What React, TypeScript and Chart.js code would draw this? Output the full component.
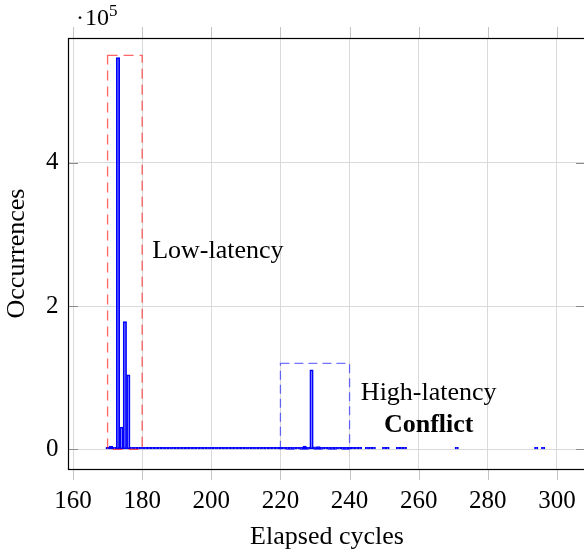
import React, { useEffect, useRef } from 'react';
import { Chart, registerables } from 'chart.js';

Chart.register(...registerables);

// ---- data ----
const cycles = [
  170, 171, 172, 173, 174, 175, 176, 177, 178, 179, 180, 181,
  182, 183, 184, 185, 186, 187, 188, 189, 190, 191, 192, 193, 194, 195, 196, 197, 198, 199,
  200, 201, 202, 203, 204, 205, 206, 207, 208, 209, 210, 211, 212, 213, 214, 215, 216, 217, 218, 219,
  220, 221, 222, 223, 224, 225, 226, 227, 228, 229, 230, 231, 232, 233, 234, 235, 236, 237, 238, 239,
  240, 241, 242, 243, 245, 246, 247, 250, 251, 254, 255, 256, 271, 294, 296,
];
const counts = [
  600, 4500, 900, 547000, 31000, 178500, 104000, 2200, 700, 500, 400, 3000,
  900, 500, 400, 350, 300, 300, 250, 250, 200, 200, 200, 180, 180, 160, 160, 150, 150, 140,
  140, 130, 130, 120, 120, 120, 110, 110, 110, 100, 100, 100, 110, 120, 150, 180, 200, 250, 300, 400,
  500, 600, 700, 800, 900, 1000, 1500, 4500, 800, 111000, 3500, 4000, 1500, 700, 500, 400, 300, 250, 200, 150,
  120, 100, 100, 90, 80, 80, 70, 60, 60, 50, 50, 40, 30, 20, 20,
];

const xTicks = [160, 180, 200, 220, 240, 260, 280, 300];
const yTicks = [0, 200000, 400000];
const xMin = 158.55;
const xMax = 308.4;
const yMin = -27350;
const yMax = 574350;

// annotation boxes
const boxX0 = [170, 220];
const boxX1 = [180, 240];
const boxY0 = [0, 0];
const boxY1 = [550000, 120000];
const boxColors = ['rgba(255,0,0,0.6)', 'rgba(0,0,255,0.55)'];
const boxDashes = [[10, 6], [9, 5]];

// annotation texts
const noteTexts = ['Low-latency', 'High-latency', 'Conflict'];
const noteX = [182.9, 262.9, 262.9];
const noteY = [267000, 69000, 24400];
const noteAlign = ['left', 'center', 'center'];
const noteBold = [false, false, true];

const SERIF = '"Liberation Serif", "Times New Roman", serif';

const decorPlugin = {
  id: 'decor',
  afterDatasetsDraw(chart: any) {
    const { ctx, chartArea: a, scales } = chart;
    const x = scales.x;
    const y = scales.y;
    ctx.save();

    // boxes
    ctx.lineWidth = 1.3;
    for (let i = 0; i < boxX0.length; i++) {
      const px0 = x.getPixelForValue(boxX0[i]);
      const px1 = x.getPixelForValue(boxX1[i]);
      const py0 = y.getPixelForValue(boxY0[i]);
      const py1 = y.getPixelForValue(boxY1[i]);
      ctx.strokeStyle = boxColors[i];
      ctx.setLineDash(boxDashes[i]);
      ctx.strokeRect(px0, py1, px1 - px0, py0 - py1);
    }
    ctx.setLineDash([]);

    // texts
    ctx.fillStyle = '#000';
    ctx.textBaseline = 'alphabetic';
    for (let i = 0; i < noteTexts.length; i++) {
      ctx.font = (noteBold[i] ? 'bold ' : '') + '26px ' + SERIF;
      ctx.textAlign = noteAlign[i];
      ctx.fillText(noteTexts[i], x.getPixelForValue(noteX[i]), y.getPixelForValue(noteY[i]));
    }

    // y ticks (inside, both sides)
    ctx.strokeStyle = '#8c8c8c';
    ctx.lineWidth = 1;
    for (const v of yTicks) {
      const py = Math.round(y.getPixelForValue(v)) + 0.5;
      ctx.beginPath();
      ctx.moveTo(a.left, py);
      ctx.lineTo(a.left + 10, py);
      ctx.moveTo(a.right - 10, py);
      ctx.lineTo(a.right, py);
      ctx.stroke();
    }
    // x ticks (outside, top and bottom)
    ctx.strokeStyle = '#c4c4c4';
    for (const v of xTicks) {
      const px = Math.round(x.getPixelForValue(v)) + 0.5;
      ctx.beginPath();
      ctx.moveTo(px, a.bottom);
      ctx.lineTo(px, a.bottom + 11);
      ctx.moveTo(px, a.top - 11);
      ctx.lineTo(px, a.top);
      ctx.stroke();
    }

    // frame
    ctx.strokeStyle = '#000';
    ctx.lineWidth = 1.2;
    ctx.strokeRect(Math.round(a.left) + 0.5, Math.round(a.top) + 0.5,
      Math.round(a.right - a.left), Math.round(a.bottom - a.top));

    // exponent label
    ctx.textAlign = 'left';
    ctx.font = '24px ' + SERIF;
    ctx.fillText('·', a.left + 8, a.top - 13);
    ctx.fillText('10', a.left + 17, a.top - 13);
    ctx.font = '17px ' + SERIF;
    ctx.fillText('5', a.left + 41, a.top - 22);

    ctx.restore();
  },
};

export default function App() {
  const ref = useRef<HTMLCanvasElement | null>(null);

  useEffect(() => {
    if (!ref.current) return;
    const data = cycles.map((c, i) => ({ x: c, y: counts[i] }));
    const chart = new Chart(ref.current, {
      type: 'bar',
      data: {
        datasets: [
          {
            data,
            backgroundColor: 'rgba(0,0,255,0.4)',
            borderColor: '#0000ff',
            borderWidth: 1,
            borderSkipped: false,
            minBarLength: 2,
            barPercentage: 1,
            categoryPercentage: 1,
          },
        ],
      },
      options: {
        animation: false,
        responsive: false,
        devicePixelRatio: 1,
        layout: { padding: { top: 38, right: 14, left: 0, bottom: 0 } },
        plugins: { legend: { display: false }, tooltip: { enabled: false } },
        scales: {
          x: {
            type: 'linear',
            min: xMin,
            max: xMax,
            offset: false,
            grid: { offset: false, color: '#d9d9d9', drawTicks: false },
            border: { display: false },
            afterBuildTicks: (s: any) => { s.ticks = xTicks.map((v) => ({ value: v })); },
            afterFit: (s: any) => { s.height = 85; },
            ticks: {
              autoSkip: false,
              maxRotation: 0,
              padding: 17,
              color: '#000',
              font: { family: SERIF, size: 25 },
            },
            title: {
              display: true,
              text: 'Elapsed cycles',
              color: '#000',
              font: { family: SERIF, size: 26 },
              padding: { top: 0, bottom: 1 },
            },
          },
          y: {
            type: 'linear',
            min: yMin,
            max: yMax,
            grid: { color: '#d9d9d9', drawTicks: false },
            border: { display: false },
            afterBuildTicks: (s: any) => { s.ticks = yTicks.map((v) => ({ value: v })); },
            afterFit: (s: any) => { s.width = 68; },
            ticks: {
              padding: 9.5,
              color: '#000',
              font: { family: SERIF, size: 25 },
              callback: (v: any) => String(Number(v) / 100000),
            },
            title: {
              display: true,
              text: 'Occurrences',
              color: '#000',
              font: { family: SERIF, size: 26 },
              padding: { top: 1.4, bottom: 0 },
            },
          },
        },
      },
      plugins: [decorPlugin],
    } as any);
    return () => chart.destroy();
  }, []);

  return (
    <div style={{ position: 'absolute', left: 0, top: 0, width: 584, height: 554, overflow: 'hidden', background: '#fff' }}>
      <canvas ref={ref} width={600} height={554} style={{ display: 'block' }} />
    </div>
  );
}
